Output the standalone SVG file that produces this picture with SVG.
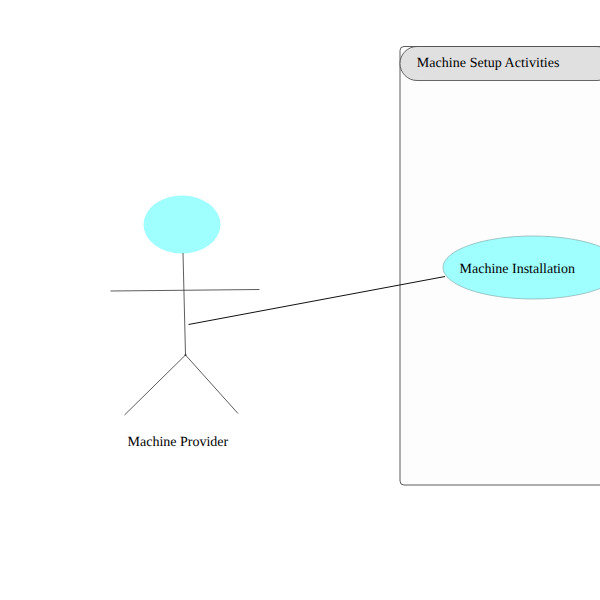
<svg xmlns="http://www.w3.org/2000/svg" width="600" height="600" viewBox="0 0 600 600">
<style>
text{font-family:"Liberation Serif","Times New Roman",serif;font-size:14px;fill:#000;text-rendering:geometricPrecision}
.limb{fill:none;stroke:#333;stroke-width:.8}
</style>
<rect width="600" height="600" fill="#fff"/>
<g id="system-boundary">
<rect x="400" y="46.500" width="260" height="438.500" rx="4" ry="4" fill="#fdfdfd" stroke="#333" stroke-width=".8"/>
<rect x="400" y="46.500" width="214" height="34" rx="17" ry="17" fill="#e0e0e0" stroke="#444" stroke-width=".8"/>
<text x="416.800" y="67" letter-spacing=".05">Machine Setup Activities</text>
</g>
<g id="actor-machine-provider">
<ellipse cx="182" cy="224.500" rx="38.500" ry="29" fill="#9fffff"/>
<path class="limb" d="M183 253L185.500 355M110.500 291L259.500 289.500M185.500 355L124.500 415M185.500 355L238 413.500"/>
<circle cx="185.500" cy="355" r="1" fill="#333"/>
<text x="127.500" y="446">Machine Provider</text>
</g>
<g id="usecase-machine-installation">
<ellipse cx="533" cy="267.500" rx="90" ry="31.500" fill="#9fffff" stroke="#8fb8b8" stroke-width=".8"/>
<text x="459.500" y="273">Machine Installation</text>
</g>
<g id="connectors">
<line x1="188.500" y1="324.500" x2="445" y2="276.500" stroke="#111" stroke-width="1"/>
</g>
</svg>
